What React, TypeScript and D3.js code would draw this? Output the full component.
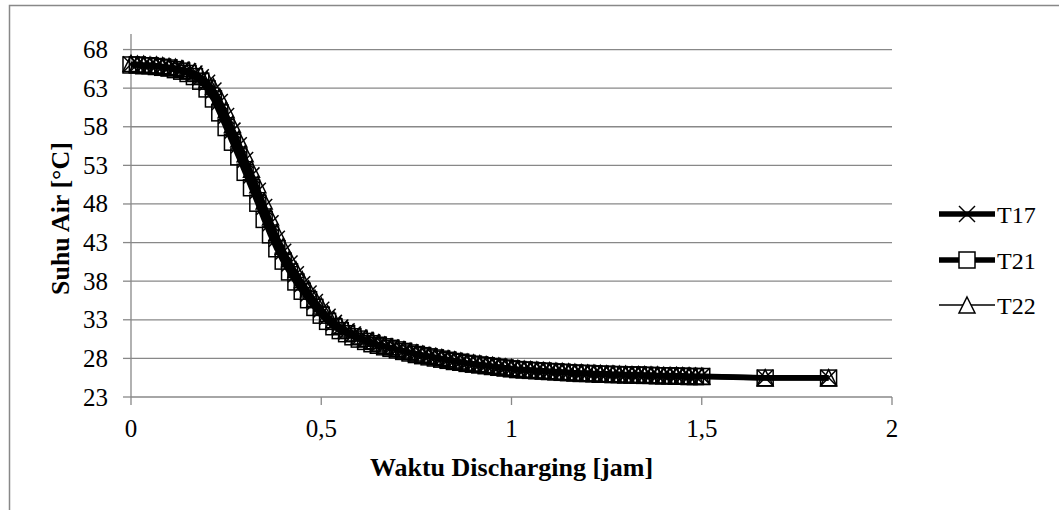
import React from "react";
import * as d3 from "d3";

// time in minutes
const minutes = [
  0, 1, 2, 3, 4, 5, 6, 7, 8, 9, 10, 11, 12, 13, 14, 15, 16, 17, 18, 19, 20,
  21, 22, 23, 24, 25, 26, 27, 28, 29, 30, 31, 32, 33, 34, 35, 36, 37, 38, 39, 40,
  41, 42, 43, 44, 45, 46, 47, 48, 49, 50, 51, 52, 53, 54, 55, 56, 57, 58, 59, 60,
  61, 62, 63, 64, 65, 66, 67, 68, 69, 70, 71, 72, 73, 74, 75, 76, 77, 78, 79, 80,
  81, 82, 83, 84, 85, 86, 87, 88, 89, 90, 100, 110,
];

const T17 = [
  66.1, 66.1, 66.0, 66.0, 65.9, 65.8, 65.7, 65.6, 65.4, 65.2, 64.9,
  64.4, 63.7, 62.7, 61.2, 59.4, 57.5, 55.6, 53.7, 51.7, 49.7,
  47.6, 45.5, 43.5, 41.8, 40.3, 38.9, 37.6, 36.4, 35.3, 34.3,
  33.4, 32.6, 32.0, 31.5, 31.1, 30.7, 30.4, 30.1, 29.8, 29.6,
  29.4, 29.2, 29.0, 28.8, 28.6, 28.45, 28.3, 28.15, 28.0, 27.85,
  27.7, 27.55, 27.4, 27.3, 27.2, 27.1, 27.0, 26.9, 26.8, 26.7,
  26.6, 26.55, 26.5, 26.45, 26.4, 26.35, 26.3, 26.25, 26.2, 26.15,
  26.1, 26.1, 26.05, 26.0, 26.0, 25.95, 25.95, 25.9, 25.9, 25.9,
  25.85, 25.85, 25.8, 25.8, 25.8, 25.75, 25.75, 25.7, 25.7, 25.7,
  25.5, 25.5,
];

const T21 = [
  66.0, 66.0, 65.9, 65.9, 65.8, 65.7, 65.6, 65.4, 65.2, 64.9, 64.5,
  63.9, 62.9, 61.6, 59.8, 57.9, 56.0, 54.1, 52.1, 50.1, 48.1,
  46.0, 44.0, 42.2, 40.6, 39.2, 37.9, 36.7, 35.6, 34.6, 33.6,
  32.8, 32.1, 31.6, 31.2, 30.8, 30.5, 30.2, 29.9, 29.7, 29.5,
  29.3, 29.1, 28.9, 28.7, 28.5, 28.35, 28.2, 28.05, 27.9, 27.75,
  27.6, 27.5, 27.35, 27.25, 27.15, 27.05, 26.95, 26.85, 26.75, 26.65,
  26.55, 26.5, 26.45, 26.4, 26.35, 26.3, 26.25, 26.2, 26.15, 26.1,
  26.05, 26.05, 26.0, 25.95, 25.95, 25.9, 25.9, 25.85, 25.85, 25.85,
  25.8, 25.8, 25.75, 25.75, 25.75, 25.7, 25.7, 25.65, 25.65, 25.65,
  25.45, 25.45,
];

const T22 = [
  66.2, 66.1, 66.1, 66.0, 66.0, 65.9, 65.8, 65.7, 65.5, 65.3, 65.1,
  64.7, 64.1, 63.2, 61.9, 60.2, 58.3, 56.4, 54.5, 52.5, 50.5,
  48.4, 46.3, 44.3, 42.5, 40.9, 39.5, 38.2, 37.0, 35.8, 34.8,
  33.8, 33.0, 32.3, 31.8, 31.3, 30.9, 30.6, 30.3, 30.0, 29.7,
  29.5, 29.3, 29.1, 28.9, 28.7, 28.55, 28.4, 28.25, 28.1, 27.95,
  27.8, 27.65, 27.5, 27.4, 27.3, 27.2, 27.1, 27.0, 26.9, 26.8,
  26.7, 26.6, 26.55, 26.5, 26.45, 26.4, 26.35, 26.3, 26.25, 26.2,
  26.15, 26.1, 26.1, 26.05, 26.0, 26.0, 25.95, 25.95, 25.9, 25.9,
  25.9, 25.85, 25.85, 25.8, 25.8, 25.8, 25.75, 25.75, 25.7, 25.7,
  25.5, 25.5,
];

const yTicks = [23, 28, 33, 38, 43, 48, 53, 58, 63, 68];
const xTicks = [0, 0.5, 1, 1.5, 2];
const xTickLabels = ["0", "0,5", "1", "1,5", "2"];
const seriesNames = ["T17", "T21", "T22"];

const GRID = "#888888";
const txt = { fontFamily: "Liberation Serif" };

type Marker = "x" | "square" | "triangle";

function MarkerShape({ kind, cx, cy, s, fill }: { kind: Marker; cx: number; cy: number; s: number; fill: string }) {
  const h = s / 2;
  if (kind === "x") {
    return (
      <g stroke="#000" strokeWidth={1.5} fill="none">
        <line x1={cx - h} y1={cy - h} x2={cx + h} y2={cy + h} />
        <line x1={cx - h} y1={cy + h} x2={cx + h} y2={cy - h} />
      </g>
    );
  }
  if (kind === "square") {
    return <rect x={cx - h} y={cy - h} width={s} height={s} fill={fill} stroke="#000" strokeWidth={1.5} />;
  }
  return (
    <path
      d={`M${cx},${cy - h}L${cx + h},${cy + h}L${cx - h},${cy + h}Z`}
      fill={fill}
      stroke="#000"
      strokeWidth={1.5}
    />
  );
}

export default function App() {
  const W = 1059;
  const H = 510;
  const x = d3.scaleLinear().domain([0, 2]).range([131, 892]);
  const y = d3.scaleLinear().domain([23, 70]).range([397, 34.1]);

  const series = [
    { name: seriesNames[0], values: T17, width: 5.5, marker: "x" as Marker },
    { name: seriesNames[1], values: T21, width: 5.5, marker: "square" as Marker },
    { name: seriesNames[2], values: T22, width: 1.5, marker: "triangle" as Marker },
  ];

  const line = (vals: number[]) =>
    d3
      .line<number>()
      .x((_, i) => x(minutes[i] / 60))
      .y((v) => y(v))(vals) || "";

  const ms = 16;
  const markerOrder = [1, 0, 2];
  const legendY = [214, 260, 305];

  return (
    <svg width={W} height={H} style={{ position: "absolute", left: 0, top: 0, background: "#fff" }}>
      <rect x={0} y={0} width={W} height={H} fill="#fff" />
      {/* chart frame */}
      <rect x={9.5} y={5.5} width={1200} height={700} fill="none" stroke={GRID} strokeWidth={1.5} />

      {/* gridlines */}
      {yTicks.slice(1).map((t) => (
        <line key={t} x1={x(0)} x2={x(2)} y1={y(t)} y2={y(t)} stroke={GRID} strokeWidth={1.3} />
      ))}
      {/* axes */}
      <line x1={x(0)} x2={x(0)} y1={y(70)} y2={y(23)} stroke={GRID} strokeWidth={1.3} />
      <line x1={x(0)} x2={x(2)} y1={y(23)} y2={y(23)} stroke={GRID} strokeWidth={1.3} />
      {yTicks.map((t) => (
        <line key={"yt" + t} x1={x(0) - 8} x2={x(0)} y1={y(t)} y2={y(t)} stroke={GRID} strokeWidth={1.3} />
      ))}
      {xTicks.map((t) => (
        <line key={"xt" + t} x1={x(t)} x2={x(t)} y1={y(23)} y2={y(23) + 8} stroke={GRID} strokeWidth={1.3} />
      ))}

      {/* tick labels */}
      {yTicks.map((t) => (
        <text key={"yl" + t} x={108} y={y(t) + 8.5} textAnchor="end" fontSize={25} fill="#000" style={txt}>
          {t}
        </text>
      ))}
      {xTicks.map((t, i) => (
        <text key={"xl" + t} x={x(t)} y={437} textAnchor="middle" fontSize={25} fill="#000" style={txt}>
          {xTickLabels[i]}
        </text>
      ))}

      {/* axis titles */}
      <text x={511.5} y={476} textAnchor="middle" fontSize={26} fontWeight="bold" fill="#000" style={txt}>
        Waktu Discharging [jam]
      </text>
      <text
        transform={`translate(69,${(y(70) + y(23)) / 2 + 3}) rotate(-90)`}
        textAnchor="middle"
        fontSize={26}
        fontWeight="bold"
        fill="#000"
        style={txt}
      >
        Suhu Air [°C]
      </text>

      {/* lines */}
      {series.map((s) => (
        <path key={"l" + s.name} d={line(s.values)} fill="none" stroke="#000" strokeWidth={s.width} strokeLinejoin="round" />
      ))}
      {/* markers */}
      {markerOrder.map((si) => (
        <g key={"m" + si}>
          {series[si].values.map((v, i) => (
            <MarkerShape key={i} kind={series[si].marker} cx={x(minutes[i] / 60)} cy={y(v)} s={ms} fill="none" />
          ))}
        </g>
      ))}

      {/* legend */}
      {series.map((s, i) => (
        <g key={"lg" + s.name}>
          <line x1={939} x2={995} y1={legendY[i]} y2={legendY[i]} stroke="#000" strokeWidth={s.width} />
          <MarkerShape kind={s.marker} cx={967} cy={legendY[i]} s={ms} fill="#fff" />
          <text x={997} y={legendY[i] + 8.5} fontSize={24} fill="#000" style={txt}>
            {s.name}
          </text>
        </g>
      ))}
    </svg>
  );
}
